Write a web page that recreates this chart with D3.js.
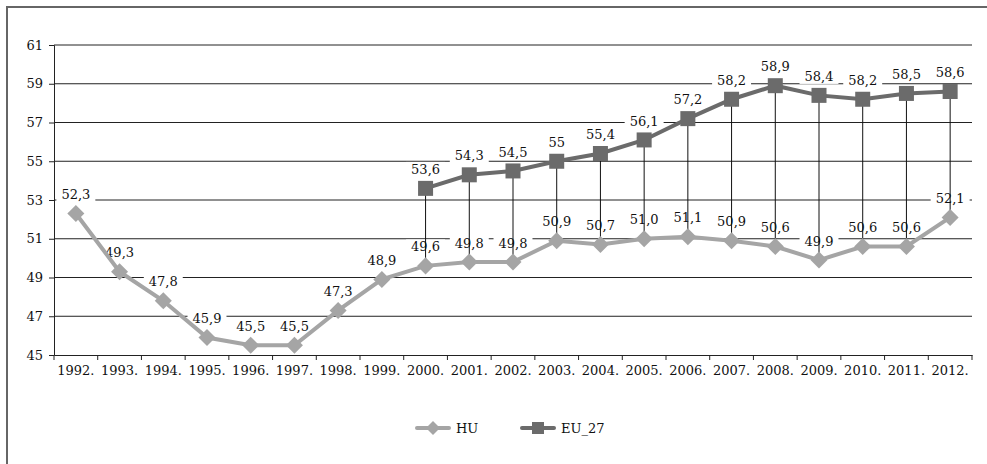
<!DOCTYPE html>
<html>
<head>
    <meta charset="utf-8">
    <title>HU vs EU_27</title>
    <script src="https://d3js.org/d3.v7.min.js"></script>
    <style>
        body {
            margin: 0;
            padding: 0;
            background: #fff;
            font-family: 'DejaVu Serif', 'Liberation Serif', serif;
        }
    </style>
</head>
<body>
    <div class="svg-container"></div>
    <script>
        const years = ['1992.', '1993.', '1994.', '1995.', '1996.', '1997.', '1998.', '1999.', '2000.', '2001.', '2002.',
            '2003.', '2004.', '2005.', '2006.', '2007.', '2008.', '2009.', '2010.', '2011.', '2012.']
        const huValues = [52.3, 49.3, 47.8, 45.9, 45.5, 45.5, 47.3, 48.9, 49.6, 49.8, 49.8,
            50.9, 50.7, 51.0, 51.1, 50.9, 50.6, 49.9, 50.6, 50.6, 52.1]
        const euYears = ['2000.', '2001.', '2002.', '2003.', '2004.', '2005.', '2006.', '2007.', '2008.', '2009.', '2010.', '2011.', '2012.']
        const euValues = [53.6, 54.3, 54.5, 55, 55.4, 56.1, 57.2, 58.2, 58.9, 58.4, 58.2, 58.5, 58.6]
        const yTicks = [45, 47, 49, 51, 53, 55, 57, 59, 61]

        const w = 987, h = 464
        const plot = { left: 54, right: 972, top: 45, bottom: 355 }

        const svg = d3.select('.svg-container')
            .append('svg')
            .attr('width', w)
            .attr('height', h)

        // outer frame (cut off at right / bottom like the original scan)
        svg.append('rect')
            .attr('x', 7).attr('y', 7)
            .attr('width', w + 10).attr('height', h + 10)
            .attr('fill', 'none')
            .attr('stroke', '#666')
            .attr('stroke-width', 2)

        const x = d3.scaleBand()
            .domain(years)
            .range([plot.left, plot.right])

        const y = d3.scaleLinear()
            .domain([45, 61])
            .range([plot.bottom, plot.top])

        const cx = (d) => x(d) + x.bandwidth() / 2

        // gridlines
        svg.append('g')
            .selectAll('line')
            .data(yTicks.slice(1))
            .enter()
            .append('line')
            .attr('x1', plot.left).attr('x2', plot.right)
            .attr('y1', (d) => y(d)).attr('y2', (d) => y(d))
            .attr('stroke', '#222')
            .attr('stroke-width', 1)

        // y axis
        const yAxis = svg.append('g')
            .attr('transform', `translate(${plot.left},0)`)
            .call(d3.axisLeft(y).tickValues(yTicks).tickSize(5).tickPadding(6))
        yAxis.select('.domain').attr('stroke', '#222')
        yAxis.selectAll('line').attr('stroke', '#222')
        yAxis.selectAll('text')
            .style('font-family', "'DejaVu Serif', serif")
            .style('font-size', '13px')
            .attr('fill', '#111')

        // x axis with ticks between categories
        const xAxis = svg.append('g')
            .attr('transform', `translate(0,${plot.bottom})`)
            .call(d3.axisBottom(x).tickSize(0).tickPadding(11))
        xAxis.select('.domain').attr('stroke', '#222')
        xAxis.selectAll('text')
            .style('font-family', "'DejaVu Serif', serif")
            .style('font-size', '13px')
            .attr('fill', '#111')
        xAxis.selectAll('.sep')
            .data(years.concat(['end']))
            .enter()
            .append('line')
            .attr('class', 'sep')
            .attr('x1', (d, i) => plot.left + i * x.bandwidth())
            .attr('x2', (d, i) => plot.left + i * x.bandwidth())
            .attr('y1', 0).attr('y2', 5)
            .attr('stroke', '#222')

        // data labels with white boxes over the gridlines
        const fmtHu = (v) => d3.format('.1f')(v).replace('.', ',')
        const fmtEu = (v) => d3.format('~f')(v).replace('.', ',')

        const labels = years.map((d, i) => ({ key: d, v: huValues[i], t: fmtHu(huValues[i]) }))
            .concat(euYears.map((d, i) => ({ key: d, v: euValues[i], t: fmtEu(euValues[i]) })))

        const lab = svg.append('g').selectAll('g')
            .data(labels)
            .enter()
            .append('g')
            .attr('transform', (d) => `translate(${cx(d.key)},${y(d.v) - 19})`)
        lab.append('text')
            .attr('text-anchor', 'middle')
            .attr('dy', '0.35em')
            .style('font-size', '13px')
            .attr('fill', '#111')
            .text((d) => d.t)
        lab.each(function () {
            const g = d3.select(this)
            const bb = g.select('text').node().getBBox()
            g.insert('rect', 'text')
                .attr('x', bb.x - 5).attr('y', bb.y)
                .attr('width', bb.width + 10).attr('height', bb.height)
                .attr('fill', '#fff')
        })

        // high-low lines between the two series
        svg.append('g')
            .selectAll('line')
            .data(euYears)
            .enter()
            .append('line')
            .attr('x1', (d) => cx(d)).attr('x2', (d) => cx(d))
            .attr('y1', (d, i) => y(euValues[i]))
            .attr('y2', (d) => y(huValues[years.indexOf(d)]))
            .attr('stroke', '#111')
            .attr('stroke-width', 1)

        const line = d3.line().x((d) => cx(d[0])).y((d) => y(d[1]))

        const huPts = years.map((d, i) => [d, huValues[i]])
        const euPts = euYears.map((d, i) => [d, euValues[i]])

        svg.append('path')
            .datum(huPts)
            .attr('d', line)
            .attr('fill', 'none')
            .attr('stroke', '#a5a5a5')
            .attr('stroke-width', 4)

        svg.append('path')
            .datum(euPts)
            .attr('d', line)
            .attr('fill', 'none')
            .attr('stroke', '#6b6b6b')
            .attr('stroke-width', 4)

        const diamond = d3.symbol().type(d3.symbolSquare).size(145)

        svg.append('g')
            .selectAll('path')
            .data(huPts)
            .enter()
            .append('path')
            .attr('d', diamond)
            .attr('transform', (d) => `translate(${cx(d[0])},${y(d[1])}) rotate(45)`)
            .attr('fill', '#a5a5a5')

        svg.append('g')
            .selectAll('rect')
            .data(euPts)
            .enter()
            .append('rect')
            .attr('x', (d) => cx(d[0]) - 7.5)
            .attr('y', (d) => y(d[1]) - 7.5)
            .attr('width', 15).attr('height', 15)
            .attr('fill', '#6b6b6b')

        // legend
        const legendData = [
            { name: 'HU', color: '#a5a5a5', shape: 'diamond', x: 417 },
            { name: 'EU_27', color: '#6b6b6b', shape: 'square', x: 522 }
        ]
        const legend = svg.append('g')
            .attr('transform', 'translate(0,428)')
        const li = legend.selectAll('g')
            .data(legendData)
            .enter()
            .append('g')
            .attr('transform', (d) => `translate(${d.x},0)`)
        li.append('line')
            .attr('x1', 0).attr('x2', 32)
            .attr('stroke', (d) => d.color)
            .attr('stroke-width', 4)
            .attr('stroke-linecap', 'round')
        li.append('path')
            .attr('d', (d) => d.shape === 'diamond'
                ? d3.symbol().type(d3.symbolSquare).size(98)()
                : d3.symbol().type(d3.symbolSquare).size(144)())
            .attr('transform', (d) => d.shape === 'diamond' ? 'translate(16,0) rotate(45)' : 'translate(16,0)')
            .attr('fill', (d) => d.color)
        li.append('text')
            .attr('x', 39)
            .attr('dy', '0.35em')
            .style('font-size', '13px')
            .attr('fill', '#111')
            .text((d) => d.name)
    </script>
</body>
</html>
